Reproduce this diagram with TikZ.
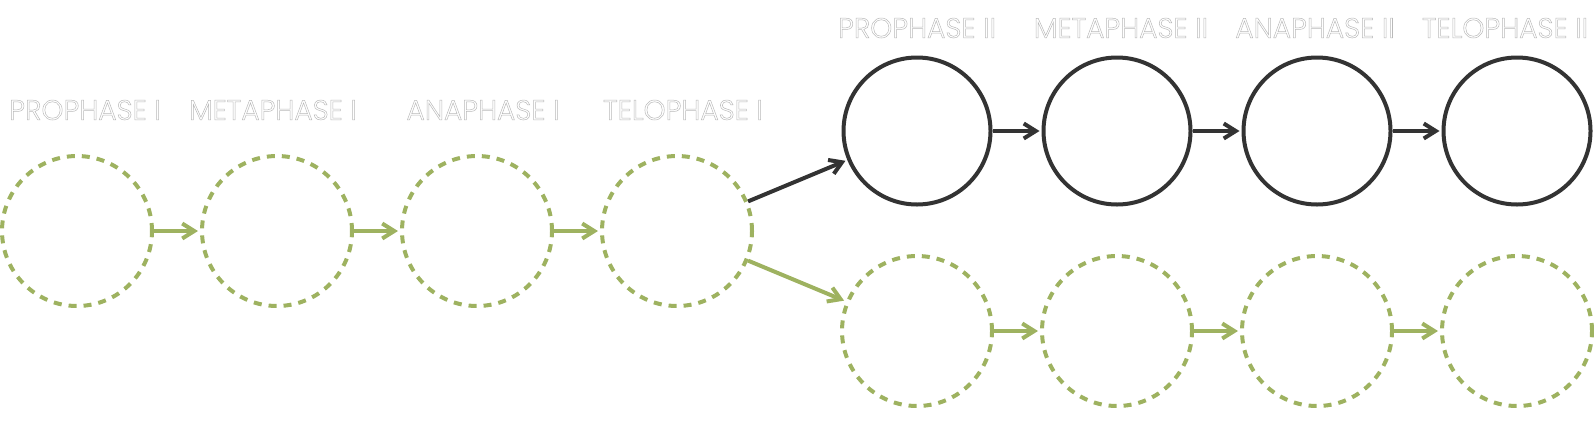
\documentclass[tikz,border=0pt]{standalone}
\usepackage{fontspec}
\newfontfamily\tagfont{Poppins Light}
\usetikzlibrary{arrows.meta,positioning}
\definecolor{meiosisgreen}{RGB}{158,178,96}
\definecolor{meiosisdark}{RGB}{51,51,51}
\definecolor{labelgrey}{RGB}{185,185,185}
\newcommand{\hollow}[1]{\special{pdf:code 1 Tr 0.5 w}#1\special{pdf:code 0 Tr}}

\begin{document}
\begin{tikzpicture}[x=1pt,y=-1pt,->,>={Straight Barb[length=12pt,width=15pt]},shorten >=2pt,line width=4pt,node distance=200pt]
          \tikzstyle{phase}=[circle,minimum size=147pt,inner sep=0pt,draw=meiosisdark]
          \tikzstyle{copy}=[phase,minimum size=150pt,draw=meiosisgreen,dash pattern=on 8pt off 7pt]
          \tikzstyle{tag}=[text=labelgrey,font=\tagfont\fontsize{28}{30}\selectfont]
          \useasboundingbox (0,0) rectangle (1594,440);

          % meiosis I
          \node[copy]  (p1) at (77,231)      {};
          \node[copy]  (m1) [right of=p1]    {};
          \node[copy]  (a1) [right of=m1]    {};
          \node[copy]  (t1) [right of=a1]    {};

          % meiosis II
          \node[phase] (p2) at (917,131)     {};
          \node[phase] (m2) [right of=p2]    {};
          \node[phase] (a2) [right of=m2]    {};
          \node[phase] (t2) [right of=a2]    {};
          \node[copy]  (p3) at (917,331)     {};
          \node[copy]  (m3) [right of=p3]    {};
          \node[copy]  (a3) [right of=m3]    {};
          \node[copy]  (t3) [right of=a3]    {};

          \node[tag] at (85,110)   {\hollow{PROPHASE I}};
          \node[tag] at (273,110)  {\hollow{METAPHASE I}};
          \node[tag] at (483,110)  {\hollow{ANAPHASE I}};
          \node[tag] at (683,110)  {\hollow{TELOPHASE I}};
          \node[tag] at (917,28)   {\hollow{PROPHASE II}};
          \node[tag] at (1121,28)  {\hollow{METAPHASE II}};
          \node[tag] at (1315,28)  {\hollow{ANAPHASE II}};
          \node[tag] at (1505,28)  {\hollow{TELOPHASE II}};

          \path[meiosisgreen] (p1) edge (m1)
                              (m1) edge (a1)
                              (a1) edge (t1)
                              (t1) edge (p3)
                              (p3) edge (m3)
                              (m3) edge (a3)
                              (a3) edge (t3);
          \path[meiosisdark]  (t1) edge (p2)
                              (p2) edge (m2)
                              (m2) edge (a2)
                              (a2) edge (t2);
        \end{tikzpicture}
\end{document}
